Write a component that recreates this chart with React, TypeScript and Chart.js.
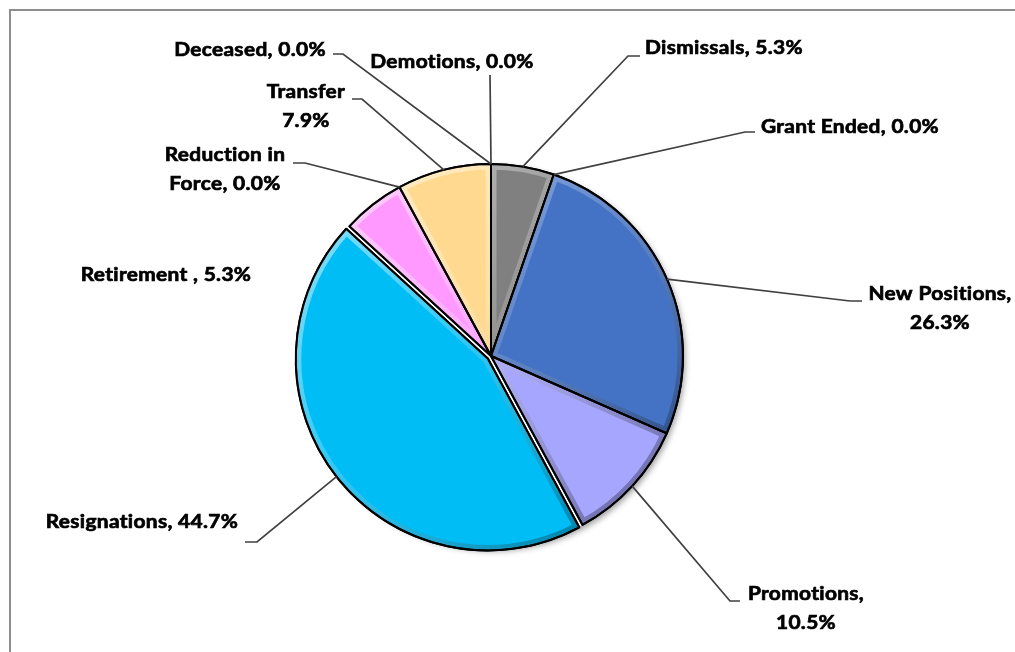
import React, { useEffect, useRef } from 'react';
import { Chart, registerables } from 'chart.js';

Chart.register(...registerables);

// ---- data ----
const categories = ['Demotions', 'Dismissals', 'Grant Ended', 'New Positions', 'Promotions', 'Resignations', 'Retirement ', 'Reduction in Force', 'Transfer', 'Deceased'];
const shares = [0, 5.3, 0, 26.3, 10.5, 44.7, 5.3, 0, 7.9, 0];
const sliceColors = ['#A5A5A5', '#808080', '#ED7D31', '#4472C4', '#A6A6FF', '#00BDF5', '#FF99FF', '#70AD47', '#FFD98F', '#5B9BD5'];
const explode = [0, 0, 0, 0, 0, 4, 0, 0, 0, 0];

// ---- label layout (px relative to pie centre): label centre, line-break rule, leader elbow points ----
type Layout = { c: [number, number]; brk?: [string, string]; leader: [number, number][] };
const labelLayout: Layout[] = [
  { c: [-39, -294], leader: [[-1, -281]] },
  { c: [233, -308], leader: [[149, -300], [137, -300]] },
  { c: [359, -229], leader: [[264, -224], [254, -224]] },
  { c: [449, -48], brk: [', ', ',\n'], leader: [[371, -55], [359, -55]] },
  { c: [315, 252], brk: [', ', ',\n'], leader: [[249, 245], [239, 245]] },
  { c: [-349, 166], leader: [[-246, 186], [-234, 186]] },
  { c: [-325, -81], leader: [] },
  { c: [-266, -187], brk: ['in ', 'in\n'], leader: [[-198, -193], [-186, -193]] },
  { c: [-185, -250], brk: [', ', '\n'], leader: [[-139, -257], [-129, -257]] },
  { c: [-241, -306], leader: [[-158, -302], [-148, -302]] },
];

const FONT = 'bold 19px Lato';
const STRETCH = 1.1;
const LINE_H = 29;

function arcGeom(arc: any) {
  const p = arc.getProps(['x', 'y', 'startAngle', 'endAngle', 'outerRadius'], true);
  return p as { x: number; y: number; startAngle: number; endAngle: number; outerRadius: number };
}

const explodePlugin = {
  id: 'explode',
  afterDatasetsUpdate(chart: any) {
    const meta = chart.getDatasetMeta(0);
    meta.data.forEach((arc: any, i: number) => {
      const d = explode[i];
      if (!d) return;
      const mid = (arc.startAngle + arc.endAngle) / 2;
      arc.x += Math.cos(mid) * d;
      arc.y += Math.sin(mid) * d;
    });
  },
};

const framePlugin = {
  id: 'frame',
  beforeDraw(chart: any) {
    const ctx = chart.ctx;
    ctx.save();
    ctx.fillStyle = '#ffffff';
    ctx.fillRect(0, 0, chart.width, chart.height);
    ctx.strokeStyle = '#8e8e8e';
    ctx.lineWidth = 2;
    ctx.strokeRect(10, 10, chart.width + 100, chart.height + 100);
    ctx.restore();
  },
  beforeDatasetsDraw(chart: any) {
    const ctx = chart.ctx;
    const a = chart.chartArea;
    const cx = (a.left + a.right) / 2;
    const cy = (a.top + a.bottom) / 2;
    const r = chart.getDatasetMeta(0).data[1].outerRadius;
    ctx.save();
    ctx.shadowColor = 'rgba(0,0,0,0.4)';
    ctx.shadowBlur = 6;
    ctx.shadowOffsetX = 2;
    ctx.shadowOffsetY = 3;
    ctx.fillStyle = '#ffffff';
    ctx.beginPath();
    ctx.arc(cx, cy, r, 0, Math.PI * 2);
    ctx.fill();
    ctx.restore();
  },
};

const bevelPlugin = {
  id: 'bevel',
  afterDatasetsDraw(chart: any) {
    const ctx = chart.ctx;
    const meta = chart.getDatasetMeta(0);
    meta.data.forEach((arc: any, i: number) => {
      if (!shares[i]) return;
      const { x, y, startAngle, endAngle, outerRadius: r } = arcGeom(arc);
      const path = () => {
        ctx.beginPath();
        ctx.moveTo(x, y);
        ctx.arc(x, y, r, startAngle, endAngle);
        ctx.closePath();
      };
      ctx.save();
      path();
      ctx.clip();
      const g = ctx.createLinearGradient(x - r, y - r, x + r * 0.7, y + r * 0.7);
      g.addColorStop(0, 'rgba(255,255,255,0.6)');
      g.addColorStop(0.5, 'rgba(255,255,255,0.2)');
      g.addColorStop(1, 'rgba(0,0,0,0.3)');
      ctx.strokeStyle = g;
      ctx.lineJoin = 'round';
      ctx.lineWidth = 11;
      path();
      ctx.stroke();
      ctx.restore();
      ctx.save();
      ctx.strokeStyle = '#000000';
      ctx.lineWidth = 2;
      ctx.lineJoin = 'round';
      path();
      ctx.stroke();
      ctx.restore();
    });
  },
};

const labelPlugin = {
  id: 'pieLabels',
  afterDraw(chart: any) {
    const ctx = chart.ctx;
    const a = chart.chartArea;
    const cx = (a.left + a.right) / 2;
    const cy = (a.top + a.bottom) / 2;
    const meta = chart.getDatasetMeta(0);
    ctx.save();
    // leader lines
    ctx.strokeStyle = '#404040';
    ctx.lineWidth = 1.7;
    ctx.lineJoin = 'miter';
    meta.data.forEach((arc: any, i: number) => {
      const L = labelLayout[i];
      if (!L.leader.length) return;
      const { x, y, startAngle, endAngle, outerRadius } = arcGeom(arc);
      const mid = (startAngle + endAngle) / 2;
      const ex = x + Math.cos(mid) * outerRadius;
      const ey = y + Math.sin(mid) * outerRadius;
      ctx.beginPath();
      L.leader.forEach((p, k) => {
        if (k === 0) ctx.moveTo(cx + p[0], cy + p[1]);
        else ctx.lineTo(cx + p[0], cy + p[1]);
      });
      ctx.lineTo(ex, ey);
      ctx.stroke();
    });
    // texts
    ctx.fillStyle = '#000000';
    ctx.strokeStyle = '#000000';
    ctx.lineWidth = 0.7;
    ctx.font = FONT;
    if ('letterSpacing' in ctx) (ctx as any).letterSpacing = '0.3px';
    ctx.textAlign = 'center';
    ctx.textBaseline = 'middle';
    categories.forEach((cat, i) => {
      const L = labelLayout[i];
      let txt = `${cat}, ${shares[i].toFixed(1)}%`;
      if (L.brk) txt = txt.replace(L.brk[0], L.brk[1]);
      const lines = txt.split('\n');
      const top = cy + L.c[1] - ((lines.length - 1) * LINE_H) / 2;
      lines.forEach((ln, k) => {
        ctx.save();
        ctx.translate(cx + L.c[0], top + k * LINE_H);
        ctx.scale(STRETCH, 1);
        ctx.fillText(ln, 0, 0);
        ctx.strokeText(ln, 0, 0);
        ctx.restore();
      });
    });
    ctx.restore();
  },
};

export default function App() {
  const ref = useRef<HTMLCanvasElement>(null);
  useEffect(() => {
    document.body.style.margin = '0';
    const chart = new Chart(ref.current as HTMLCanvasElement, {
      type: 'pie',
      data: {
        labels: categories,
        datasets: [
          {
            data: shares,
            backgroundColor: sliceColors,
            borderColor: '#000000',
            borderWidth: shares.map((v) => (v > 0 ? 2 : 0)),
          },
        ],
      },
      options: {
        responsive: false,
        animation: false,
        events: [],
        radius: 192,
        layout: { padding: { left: 100, right: 133, top: 150, bottom: 90 } },
        plugins: { legend: { display: false }, tooltip: { enabled: false } },
      } as any,
      plugins: [explodePlugin, framePlugin, bevelPlugin, labelPlugin],
    });
    return () => chart.destroy();
  }, []);
  return (
    <div style={{ position: 'absolute', left: 0, top: 0, width: 1015, height: 652, overflow: 'hidden', background: '#fff' }}>
      <canvas ref={ref} width={1015} height={652} style={{ display: 'block' }} />
    </div>
  );
}
